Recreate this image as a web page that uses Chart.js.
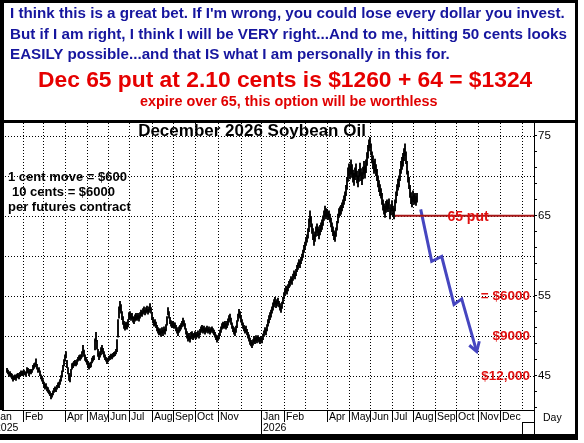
<!DOCTYPE html>
<html>
<head>
<meta charset="utf-8">
<title>December 2026 Soybean Oil</title>
<script src="https://cdn.jsdelivr.net/npm/chart.js@4.4.1/dist/chart.umd.min.js"></script>
<style>
  html, body { margin: 0; padding: 0; background: #fff; }
  #wrap { position: relative; width: 584px; height: 443px; overflow: hidden; }
  #myChart { position: absolute; left: 0; top: 0; }
  .txt { position: absolute; white-space: nowrap; font-family: "Liberation Sans", Arial, sans-serif; font-weight: bold; }
  .blue { color: #16169e; font-size: 15.2px; line-height: 18px; left: 10px; }
  .bigred { color: #e60000; font-size: 22.8px; line-height: 26px; left: 38px; top: 66px; }
  .smallred { color: #e00000; font-size: 14.4px; line-height: 16px; left: 140px; top: 93px; }
</style>
</head>
<body>
<div id="wrap">
  <canvas id="myChart" width="584" height="443"></canvas>
  <div class="txt blue" style="top:4px">I think this is a great bet. If I'm wrong, you could lose every dollar you invest.</div>
  <div class="txt blue" style="top:25px">But if I am right, I think I will be VERY right...And to me, hitting 50 cents looks</div>
  <div class="txt blue" style="top:45px">EASILY possible...and that IS what I am personally in this for.</div>
  <div class="txt bigred">Dec 65 put at 2.10 cents is $1260 + 64 = $1324</div>
  <div class="txt smallred">expire over 65, this option will be worthless</div>
</div>
<script>
// day index of the first bar (1 index = 1 trading day)
const firstDay = 5;

// daily highs / lows, cents per lb
const highs = [
    45.9,45.7,45.4,45.5,45.3,45.2,44.9,45.0,45.1,45.0,
    45.2,45.3,45.1,45.4,45.6,45.5,45.6,45.7,45.5,45.4,
    46.0,45.9,45.6,45.8,45.7,45.8,46.3,46.5,46.6,47.1,
    46.4,45.9,46.0,45.6,45.1,44.9,44.5,44.2,43.9,44.0,
    43.6,43.5,43.2,43.0,42.7,42.8,43.1,43.4,43.6,43.5,
    43.8,44.1,44.2,44.5,45.0,45.6,46.3,47.0,47.6,48.0,
    46.9,46.0,45.3,45.0,45.8,46.5,46.6,46.8,46.9,46.7,
    47.0,47.3,47.5,47.6,47.6,48.0,48.8,48.2,47.6,47.3,
    47.0,46.8,46.5,46.6,46.7,47.2,47.4,47.5,49.6,50.4,
    49.4,48.3,47.8,48.0,48.5,48.8,48.4,48.0,47.6,47.3,
    47.1,47.2,47.4,47.5,47.7,47.6,47.8,47.9,48.0,48.3,
    49.5,52.0,53.6,54.3,53.9,53.0,52.4,51.8,51.5,51.7,
    51.6,52.0,52.9,53.0,52.7,52.8,52.4,52.3,52.6,52.8,
    52.5,52.8,52.5,52.9,53.2,53.0,53.4,53.6,53.2,53.5,
    53.7,53.3,53.6,54.0,53.5,52.8,52.3,51.9,52.0,51.7,
    51.3,51.0,50.8,50.9,50.6,51.0,50.7,51.1,50.8,51.4,
    52.4,53.5,53.0,52.3,51.9,51.7,51.8,51.6,51.6,51.3,
    51.0,50.7,51.1,51.3,51.5,51.8,52.2,51.9,51.5,50.9,
    50.5,50.1,50.3,49.9,50.4,50.5,50.2,50.3,50.5,50.2,
    50.4,50.6,50.3,50.8,51.1,51.3,51.0,51.2,50.9,51.0,
    51.2,50.9,51.1,50.8,51.0,51.1,50.9,50.7,50.4,50.1,
    49.9,50.0,50.2,50.7,51.1,51.5,51.7,51.6,51.8,51.5,
    51.8,52.1,52.5,52.7,52.2,51.6,51.2,51.0,50.8,51.2,
    51.9,52.7,53.3,53.0,52.5,52.0,51.6,51.3,51.0,51.2,
    50.8,50.4,50.1,49.7,49.4,49.2,49.5,49.9,49.7,50.0,
    49.8,50.0,49.8,49.7,49.9,49.7,50.2,50.6,51.0,50.8,
    51.4,52.0,52.5,52.9,53.2,53.6,54.1,54.5,54.8,54.3,
    54.5,54.7,54.3,54.0,53.7,54.2,54.8,55.4,55.8,56.2,
    56.0,56.4,56.8,57.0,57.4,57.2,57.7,58.1,57.9,58.3,
    58.8,59.1,59.5,59.3,59.8,60.2,60.7,61.3,61.7,62.2,
    62.6,63.4,64.6,65.6,64.9,64.0,63.4,62.6,63.0,63.6,
    64.0,63.6,63.3,63.8,64.1,64.5,65.0,65.6,66.2,65.9,
    65.8,65.5,65.6,65.2,64.7,64.1,63.6,63.1,62.9,63.5,
    64.3,65.2,65.9,66.1,66.3,66.6,67.0,67.5,68.0,68.8,
    69.8,71.0,71.5,71.2,72.0,71.4,70.7,70.3,71.0,71.5,
    70.6,70.0,70.8,71.6,70.9,70.4,71.1,71.8,71.2,72.0,
    72.9,73.8,74.5,74.8,74.0,73.0,72.5,71.8,72.1,71.4,
    70.8,70.0,69.4,68.9,68.4,67.8,67.0,66.5,66.2,66.8,
    67.0,66.7,67.1,66.0,66.4,66.9,66.2,65.9,67.0,68.0,
    68.9,69.6,70.0,70.8,71.8,72.3,72.8,73.4,74.0,73.0,
    71.8,70.6,69.8,68.8,67.9,67.4,68.1,67.6,67.8,67.4,
    67.8
];
const lows = [
    45.4,45.2,44.9,45.0,44.8,44.6,44.3,44.5,44.6,44.4,
    44.7,44.8,44.6,44.9,45.0,45.1,45.0,45.2,45.1,44.9,
    45.3,45.4,45.0,45.3,45.2,45.4,45.7,45.9,46.1,46.3,
    45.8,45.4,45.5,45.0,44.6,44.3,44.0,43.6,43.3,43.5,
    43.1,42.9,42.7,42.5,42.1,42.3,42.6,42.9,43.1,43.0,
    43.3,43.6,43.5,43.9,44.3,44.8,45.5,46.2,46.8,47.2,
    46.0,45.2,44.4,44.2,45.0,45.8,46.0,46.2,46.3,46.2,
    46.4,46.8,47.0,46.9,47.1,47.3,47.8,47.4,46.9,46.7,
    46.4,46.0,45.8,46.0,46.1,46.6,46.8,47.0,48.2,49.3,
    48.3,47.4,47.0,47.3,47.6,48.0,47.7,47.3,47.0,46.8,
    46.5,46.7,46.9,47.0,47.2,47.1,47.3,47.4,47.5,47.7,
    48.0,49.8,52.2,53.2,52.8,52.0,51.4,50.9,50.7,50.9,
    50.8,51.1,52.0,52.2,51.9,52.1,51.7,51.5,51.8,52.0,
    51.9,52.1,51.8,52.2,52.5,52.4,52.7,52.9,52.6,52.8,
    53.0,52.7,52.9,53.2,52.8,52.0,51.6,51.2,51.3,51.0,
    50.6,50.3,50.1,50.2,49.9,50.3,50.0,50.4,50.2,50.6,
    51.3,52.6,52.2,51.5,51.2,51.0,51.1,50.9,51.0,50.6,
    50.3,50.0,50.4,50.6,50.8,51.1,51.4,51.2,50.8,50.2,
    49.7,49.3,49.5,49.2,49.6,49.8,49.5,49.7,49.9,49.6,
    49.8,50.0,49.7,50.1,50.4,50.6,50.3,50.5,50.2,50.4,
    50.6,50.3,50.5,50.2,50.4,50.6,50.3,50.1,49.8,49.5,
    49.2,49.4,49.6,50.0,50.4,50.8,51.0,50.9,51.1,50.8,
    51.0,51.3,51.7,51.9,51.4,50.9,50.5,50.2,50.0,50.4,
    51.0,51.8,52.4,52.2,51.7,51.3,50.9,50.6,50.3,50.5,
    50.1,49.7,49.3,48.9,48.7,48.5,48.8,49.2,49.0,49.3,
    49.1,49.4,49.2,49.0,49.3,49.1,49.5,49.9,50.3,50.1,
    50.6,51.2,51.6,52.0,52.3,52.8,53.2,53.6,53.9,53.5,
    53.7,54.0,53.6,53.2,52.9,53.4,54.0,54.6,55.0,55.4,
    55.2,55.6,56.0,56.2,56.6,56.4,56.9,57.3,57.1,57.5,
    58.0,58.3,58.7,58.5,59.0,59.4,59.8,60.4,60.8,61.3,
    61.7,62.2,63.0,64.2,63.6,62.8,62.0,61.3,61.8,62.4,
    62.9,62.5,62.1,62.6,63.0,63.3,63.8,64.4,64.9,64.6,
    64.9,64.5,64.7,64.2,63.6,63.0,62.5,62.0,61.8,62.4,
    63.2,64.1,64.8,65.0,65.2,65.6,66.0,66.4,66.9,67.5,
    68.3,69.3,70.0,69.6,70.2,69.8,69.2,68.8,69.5,69.9,
    69.1,68.6,69.3,70.0,69.4,68.9,69.6,70.2,69.7,70.4,
    71.3,72.2,73.1,73.5,72.6,71.6,70.9,70.3,70.6,70.0,
    69.4,68.6,68.0,67.5,67.2,66.4,65.7,65.2,64.8,65.4,
    65.8,65.5,65.9,64.6,65.1,65.6,64.9,64.6,65.6,66.6,
    67.5,68.2,68.6,69.4,70.3,70.8,71.2,71.9,72.5,71.5,
    70.2,69.2,68.4,67.3,66.5,66.1,66.8,66.4,66.6,66.3,
    66.7
];

// month boundaries on the day axis and their labels
const monthTicks = [-9, 21, 41, 63, 85, 106, 127, 150, 171, 193, 216, 239,
                    259, 282, 303, 325, 347, 368, 390, 411, 433, 454, 476, 498, 520];
const monthLabels = ['Jan','Feb','','Apr','May','Jun','Jul','Aug','Sep','Oct','Nov','',
                     'Jan','Feb','','Apr','May','Jun','Jul','Aug','Sep','Oct','Nov','Dec',''];
const yearTicks = [-9, 259];
const yearLabels = ['2025', '2026'];

const priceTicks = [45, 50, 55, 60, 65, 70, 75];
const yMin = 40.7, yMax = 76.6, xMax = 532;

// the 65 put strike line and the projected move
const putStrike = 65;
const putStartDay = 393;
const arrowX = [418.7, 429.7, 439.7, 452, 459.7, 474.7];
const arrowY = [65.8, 59.3, 59.9, 53.9, 54.6, 48.0];
const headX = [467.3, 474.7, 477.3];
const headY = [48.8, 48.0, 49.3];

// dollar value labels next to the price axis
const payoffLabels = ['= $6000', '$9000', '$12,000'];
const payoffLevels = [55, 50, 45];

const FONT = '"Liberation Sans", Arial, sans-serif';

// dotted grid, drawn under the bars
const gridPlugin = {
    id: 'dotgrid',
    beforeDatasetsDraw(chart) {
        const ctx = chart.ctx;
        const xs = chart.scales.x;
        const ys = chart.scales.y;
        const area = chart.chartArea;
        ctx.save();
        ctx.strokeStyle = '#000';
        ctx.lineWidth = 1;
        ctx.setLineDash([1, 2]);
        monthTicks.forEach(v => {
            const px = Math.round(xs.getPixelForValue(v)) + 0.5;
            if (px < area.left + 3 || px > area.right - 1) return;
            ctx.beginPath();
            ctx.moveTo(px, area.top);
            ctx.lineTo(px, area.bottom);
            ctx.stroke();
        });
        priceTicks.forEach(v => {
            const py = Math.round(ys.getPixelForValue(v)) + 0.5;
            ctx.beginPath();
            ctx.moveTo(area.left, py);
            ctx.lineTo(area.right, py);
            ctx.stroke();
        });
        ctx.restore();
    }
};

const framePlugin = {
    id: 'frame',
    afterDraw(chart) {
        const ctx = chart.ctx;
        const xs = chart.scales.x;
        const ys = chart.scales.y;
        const area = chart.chartArea;
        ctx.save();

        // chart title and notes
        ctx.fillStyle = '#000';
        ctx.textBaseline = 'middle';
        ctx.textAlign = 'center';
        ctx.font = 'bold 17px ' + FONT;
        ctx.fillText('December 2026 Soybean Oil', 252, 131);
        ctx.textAlign = 'left';
        ctx.font = 'bold 13px ' + FONT;
        ctx.fillText('1 cent move = $600', 8, 177);
        ctx.fillText('10 cents = $6000', 12, 192);
        ctx.fillText('per futures contract', 8, 207);

        // red labels
        ctx.fillStyle = '#e01010';
        ctx.font = 'bold 14px ' + FONT;
        ctx.textAlign = 'center';
        ctx.fillText('65 put', xs.getPixelForValue(466), ys.getPixelForValue(putStrike) + 1);
        ctx.textAlign = 'right';
        ctx.font = 'bold 13.5px ' + FONT;
        payoffLabels.forEach((t, i) => {
            ctx.fillText(t, area.right - 4, ys.getPixelForValue(payoffLevels[i]) + 1);
        });

        // year row
        ctx.fillStyle = '#000';
        ctx.font = '10.5px ' + FONT;
        ctx.textAlign = 'left';
        yearTicks.forEach((v, i) => {
            ctx.fillText(yearLabels[i], xs.getPixelForValue(v) + 2, 428);
        });
        ctx.fillText('Day', 543, 418);
        ctx.fillRect(Math.round(xs.getPixelForValue(yearTicks[1])), 422, 1, 12);
        const endX = Math.round(xs.getPixelForValue(monthTicks[monthTicks.length - 1]));
        ctx.fillRect(endX, 422, 1, 12);
        ctx.fillRect(endX, 422, area.right - endX, 1);
        ctx.fillRect(Math.round(area.right), area.bottom, 1, 434 - area.bottom);

        // frame
        ctx.fillRect(0, 0, 578, 3);
        ctx.fillRect(0, 0, 4, area.bottom);
        ctx.fillRect(575, 0, 3, 440);
        ctx.fillRect(0, 120, 578, 3);
        ctx.fillRect(0, 434, 578, 6);
        ctx.restore();
    }
};

window.onload = function() {
    const ctx = document.getElementById('myChart').getContext('2d');

    const bars = highs.map((h, i) => ({ x: firstDay + i, y: [lows[i], h] }));

    new Chart(ctx, {
        type: 'bar',
        data: {
            datasets: [{
                label: 'Dec 2026 Soybean Oil',
                data: bars,
                backgroundColor: '#000',
                borderWidth: 0,
                barThickness: 1.2,
                order: 1
            }, {
                type: 'line',
                label: '65 put',
                data: [{ x: putStartDay, y: putStrike }, { x: xMax, y: putStrike }],
                borderColor: '#a81818',
                borderWidth: 2,
                pointRadius: 0,
                order: 0
            }, {
                type: 'line',
                label: 'projection',
                data: arrowX.map((x, i) => ({ x: x, y: arrowY[i] })),
                borderColor: '#4646c0',
                borderWidth: 3,
                pointRadius: 0,
                borderJoinStyle: 'miter',
                order: 0
            }, {
                type: 'line',
                label: 'arrow head',
                data: headX.map((x, i) => ({ x: x, y: headY[i] })),
                borderColor: '#4646c0',
                borderWidth: 3,
                pointRadius: 0,
                order: 0
            }]
        },
        options: {
            responsive: false,
            animation: false,
            devicePixelRatio: 1,
            layout: { padding: { top: 123, left: 2, right: 0, bottom: 0 } },
            plugins: {
                legend: { display: false },
                tooltip: { enabled: false }
            },
            scales: {
                x: {
                    type: 'linear',
                    min: 0,
                    max: xMax,
                    offset: false,
                    afterBuildTicks: s => { s.ticks = monthTicks.map(v => ({ value: v })); },
                    afterFit: s => { s.height = 33; },
                    grid: {
                        offset: false,
                        drawOnChartArea: false,
                        drawTicks: true,
                        tickLength: 12,
                        tickWidth: 1,
                        tickColor: c => monthLabels[c.index] ? '#000' : 'rgba(0,0,0,0)'
                    },
                    border: { display: true, color: '#000', width: 1 },
                    ticks: {
                        autoSkip: false,
                        maxRotation: 0,
                        align: 'start',
                        labelOffset: 2,
                        padding: -11,
                        color: '#000',
                        font: { family: FONT, size: 10.5 },
                        callback: (v, i) => monthLabels[i]
                    }
                },
                y: {
                    position: 'right',
                    min: yMin,
                    max: yMax,
                    beginAtZero: false,
                    afterBuildTicks: s => {
                        const t = [];
                        for (let v = Math.ceil(yMin); v <= Math.floor(yMax); v++) t.push({ value: v });
                        s.ticks = t;
                    },
                    afterFit: s => { s.width = 50; },
                    grid: {
                        drawOnChartArea: false,
                        drawTicks: true,
                        tickLength: 3,
                        tickColor: '#000'
                    },
                    border: { display: true, color: '#000', width: 1 },
                    ticks: {
                        padding: 1,
                        color: '#000',
                        font: { family: FONT, size: 11.5 },
                        callback: v => priceTicks.includes(v) ? String(v) : ''
                    }
                }
            }
        },
        plugins: [gridPlugin, framePlugin]
    });
};
</script>
</body>
</html>
